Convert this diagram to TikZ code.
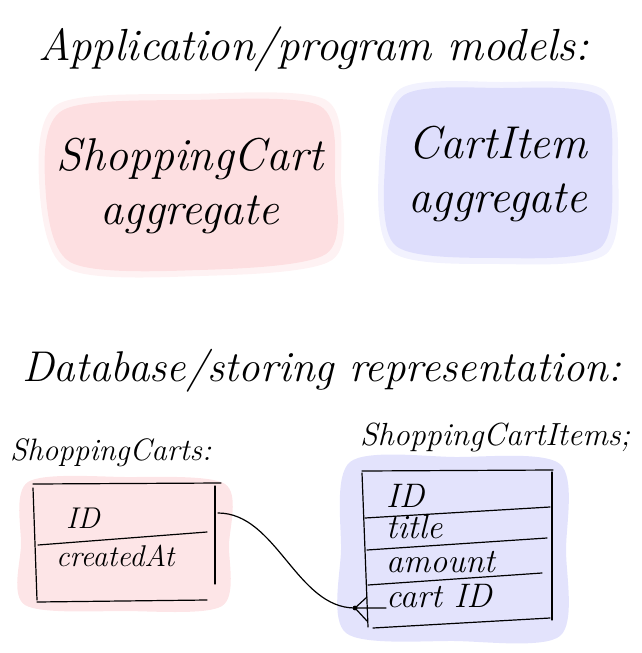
\documentclass[tikz,border=0pt]{standalone}
\usepackage{xcolor}
\usetikzlibrary{positioning}
\definecolor{cartpink}{RGB}{253,223,225}
\definecolor{itemblue}{RGB}{222,222,252}

\begin{document}
\begin{tikzpicture}[x=1pt,y=-1pt,
  headtxt/.style={anchor=base west,inner sep=0pt,font=\fontsize{45}{50}\selectfont\itshape},
  blobtxt/.style={align=center,inner sep=0pt,font=\fontsize{46}{54}\selectfont\itshape},
  tabletxt/.style={anchor=base west,inner sep=0pt,font=\fontsize{31}{36}\selectfont\itshape},
  rowtxt/.style={anchor=base west,inner sep=0pt,font=\fontsize{30}{34}\selectfont\itshape},
  pen/.style={line width=1.2pt,line cap=round}]
\useasboundingbox (0,0) rectangle (642,653);
% watercolour washes, a soft rim and a full core
\fill[cartpink,opacity=0.4] plot[smooth cycle] coordinates {(58,104) (190,94) (326,100) (341,180) (332,260) (200,276) (66,268) (39,180)};
\fill[cartpink] plot[smooth cycle] coordinates {(63,110) (190,100) (320,106) (335,180) (326,254) (200,270) (70,262) (45,180)};
\fill[itemblue,opacity=0.4] plot[smooth cycle] coordinates {(400,89) (500,82) (604,90) (618,170) (606,254) (500,264) (392,252) (379,165)};
\fill[itemblue] plot[smooth cycle] coordinates {(404,95) (500,88) (600,96) (612,170) (600,248) (500,258) (396,246) (385,165)};
\fill[cartpink!80!white] plot[smooth cycle] coordinates {(28,482) (125,477) (225,484) (229,545) (222,606) (125,611) (25,605) (21,545)};
\fill[itemblue!85!white] plot[smooth cycle] coordinates {(350,462) (455,457) (560,464) (566,550) (560,636) (455,641) (346,633) (341,550)};
% headings
\node[headtxt] (appHead) at (38,60) {Application/program models:};
\node[headtxt,font=\fontsize{43}{48}\selectfont\itshape] (dbHead) at (22,381) {Database/storing representation:};
% aggregates
\node[blobtxt] (cartAgg) at (190,186) {ShoppingCart\\aggregate};
\node[blobtxt] (itemAgg) at (498,174) {CartItem\\aggregate};
% ShoppingCarts table
\node[tabletxt] (cartsHead) at (10,460) {ShoppingCarts:};
\draw[pen] (33,484)--(221,483);
\draw[pen] (33,488)--(37,600);
\draw[pen] (215,486)--(215,584);
\draw[pen] (38,545)--(207,532);
\draw[pen] (37,602)--(207,600);
\node[rowtxt] (cartsId) at (66,528) {ID};
\node[rowtxt] (cartsCreated) at (56,566) {createdAt};
% ShoppingCartItems table
\node[tabletxt,font=\fontsize{32}{36}\selectfont\itshape] (itemsHead) at (360,445) {ShoppingCartItems;};
\draw[pen] (362,471)--(553,470);
\draw[pen] (362,473)--(368,627);
\draw[pen] (552,472)--(552,620);
\draw[pen] (365,518)--(550,507);
\draw[pen] (367,550)--(547,538);
\draw[pen] (368,585)--(542,573);
\draw[pen] (373,628)--(550,618);
\node[rowtxt,font=\fontsize{34}{38}\selectfont\itshape] (itemsId) at (386,507) {ID};
\node[rowtxt,font=\fontsize{34}{38}\selectfont\itshape] (itemsTitle) at (386,538) {title};
\node[rowtxt,font=\fontsize{34}{38}\selectfont\itshape] (itemsAmount) at (386,572) {amount};
\node[rowtxt,font=\fontsize{34}{38}\selectfont\itshape] (itemsCartId) at (386,607) {cart ID};
% relation, one cart to many items
\coordinate (idEnd) at (218,513);
\coordinate (footDot) at (355,608);
\draw[pen] (idEnd) to[out=0,in=180,looseness=0.9] (footDot);
\fill (footDot) circle (2.4pt);
\draw[pen] (footDot)--(367,597) (footDot)--(367,621) (footDot)--(itemsCartId.west|-footDot);
\end{tikzpicture}
\end{document}
